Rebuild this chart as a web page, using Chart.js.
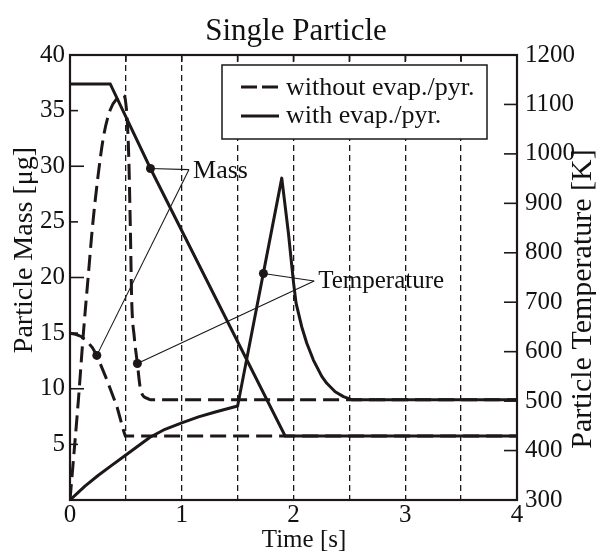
<!DOCTYPE html>
<html><head><meta charset="utf-8">
<script src="https://cdn.jsdelivr.net/npm/chart.js@4.4.1/dist/chart.umd.min.js"></script>
<style>html,body{margin:0;padding:0;background:#fff;}#wrap{width:596px;height:551px;}</style>
</head><body><div id="wrap"><canvas id="c" width="596" height="551"></canvas></div>
<script>
// ---- texts ----
const chartTitle = 'Single Particle';
const xTitle = 'Time [s]';
const yMassTitle = 'Particle Mass [\u03bcg]';
const yTempTitle = 'Particle Temperature [K]';
const legendLabels = ['without evap./pyr.', 'with evap./pyr.'];

// ---- ticks ----
const xTickValues = [0, 0.5, 1, 1.5, 2, 2.5, 3, 3.5, 4];
const xTickLabels = ['0', '', '1', '', '2', '', '3', '', '4'];
const massTickValues = [0, 5, 10, 15, 20, 25, 30, 35, 40];
const massTickLabels = ['', '5', '10', '15', '20', '25', '30', '35', '40'];
const tempTickValues = [300, 400, 500, 600, 700, 800, 900, 1000, 1100, 1200];
const tempTickLabels = ['300', '400', '500', '600', '700', '800', '900', '1000', '1100', '1200'];

// ---- series: mass with evap./pyr. (solid) ----
const massWithT = [0, 0.36, 0.72, 1.925, 4];
const massWithM = [37.4, 37.4, 29.8, 5.75, 5.75];
// ---- mass without evap./pyr. (dashed) ----
const massWithoutT = [0, 0.05, 0.1, 0.15, 0.2, 0.24, 0.33, 0.42, 0.48, 0.495, 4];
const massWithoutM = [15.0, 14.9, 14.7, 14.3, 13.7, 13.0, 10.8, 8.4, 6.2, 5.75, 5.75];
// ---- temperature without evap./pyr. (dashed) ----
const tempWithoutT = [0, 0.015, 0.075, 0.12, 0.164, 0.2, 0.254, 0.3, 0.36, 0.42, 0.477, 0.505, 0.525, 0.54, 0.552, 0.575, 0.603, 0.627, 0.65, 0.687, 0.72, 4];
const tempWithoutK = [300, 340, 502, 638, 755, 850, 961, 1035, 1089, 1112, 1119, 1090, 1000, 850, 705, 630, 576, 529, 512, 506, 503, 503];
// ---- temperature with evap./pyr. (solid) ----
const tempWithT = [0, 0.134, 0.254, 0.373, 0.5, 0.716, 0.85, 1.0, 1.15, 1.3, 1.5, 1.895, 1.955, 2.0, 2.023, 2.074, 2.119, 2.178, 2.253, 2.298, 2.373, 2.447, 2.52, 4];
const tempWithK = [300, 328, 350, 370, 391, 427, 443, 456, 468, 478, 490, 951, 839, 740, 698, 650, 617, 583, 550, 536, 519, 509, 503, 503];

// ---- marked points (callout dots) ----
const massDotT = [0.72, 0.24];
const massDotM = [29.8, 13.0];
const tempDotT = [1.731, 0.603];
const tempDotK = [758, 576];
// ---- callout labels (anchor in data units) ----
const massLabel = { text: 'Mass', t: 1.065, v: 29.7 };
const tempLabel = { text: 'Temperature', t: 2.185, v: 743 };

const ink = '#1d1717';
const serif = '"Liberation Serif", "Times New Roman", serif';
const pts = (xs, ys) => xs.map((x, i) => ({ x: x, y: ys[i] }));

const deco = {
  id: 'deco',
  afterDraw(chart) {
    const { ctx, chartArea: a, scales } = chart;
    const x = scales.x, y = scales.y, y1 = scales.y1;
    const line = (x1, yA, x2, yB) => { ctx.beginPath(); ctx.moveTo(x1, yA); ctx.lineTo(x2, yB); ctx.stroke(); };
    ctx.save();
    ctx.strokeStyle = ink; ctx.fillStyle = ink; ctx.setLineDash([]);
    // inward ticks
    ctx.lineWidth = 1.6;
    massTickValues.forEach(v => { const py = y.getPixelForValue(v); line(a.left, py, a.left + (v % 10 === 0 ? 14 : 8), py); });
    tempTickValues.forEach(v => { const py = y1.getPixelForValue(v); line(a.right - 13, py, a.right, py); });
    xTickValues.forEach(v => { const px = x.getPixelForValue(v); line(px, a.top, px, a.top + 7); });
    // frame
    ctx.lineWidth = 2.2;
    ctx.strokeRect(a.left, a.top, a.right - a.left, a.bottom - a.top);
    // legend
    ctx.fillStyle = '#fff';
    ctx.fillRect(222, 65, 265, 74);
    ctx.lineWidth = 1.5; ctx.strokeStyle = ink;
    ctx.strokeRect(222, 65, 265, 74);
    ctx.lineWidth = 3.2;
    ctx.setLineDash([16, 5]); line(241, 87, 279, 87);
    ctx.setLineDash([]); line(241, 116, 279, 116);
    ctx.fillStyle = '#111';
    ctx.font = '26px ' + serif; ctx.textAlign = 'left'; ctx.textBaseline = 'alphabetic';
    ctx.fillText(legendLabels[0], 286, 95);
    ctx.fillText(legendLabels[1], 286, 123);
    // callouts
    ctx.lineWidth = 1.1; ctx.strokeStyle = ink;
    const mx = x.getPixelForValue(massLabel.t), my = y.getPixelForValue(massLabel.v);
    massDotT.forEach((t, i) => line(mx, my, x.getPixelForValue(t), y.getPixelForValue(massDotM[i])));
    const tx = x.getPixelForValue(tempLabel.t), ty = y1.getPixelForValue(tempLabel.v);
    tempDotT.forEach((t, i) => line(tx, ty, x.getPixelForValue(t), y1.getPixelForValue(tempDotK[i])));
    ctx.font = '26px ' + serif;
    ctx.fillText(massLabel.text, mx + 4, my + 8);
    ctx.font = '25px ' + serif;
    ctx.fillText(tempLabel.text, tx + 4, ty + 7);
    // titles
    ctx.textAlign = 'center';
    ctx.font = '31px ' + serif;
    ctx.fillText(chartTitle, 296, 40);
    ctx.font = '25px ' + serif;
    ctx.fillText(xTitle, 304, 547);
    ctx.save(); ctx.translate(32, 250); ctx.rotate(-Math.PI / 2);
    ctx.font = '28px ' + serif; ctx.fillText(yMassTitle, 0, 0); ctx.restore();
    ctx.save(); ctx.translate(591, 299); ctx.rotate(-Math.PI / 2);
    ctx.font = '30px ' + serif; ctx.fillText(yTempTitle, 0, 0); ctx.restore();
    ctx.restore();
  }
};

const tickFont = { family: serif, size: 25 };
new Chart(document.getElementById('c').getContext('2d'), {
  type: 'line',
  data: {
    datasets: [
      { data: pts(massWithT, massWithM), yAxisID: 'y', borderColor: ink, borderWidth: 3, pointRadius: 0, tension: 0, fill: false },
      { data: pts(massWithoutT, massWithoutM), yAxisID: 'y', borderColor: ink, borderWidth: 3, borderDash: [16, 7], pointRadius: 0, tension: 0, fill: false },
      { data: pts(tempWithoutT, tempWithoutK), yAxisID: 'y1', borderColor: ink, borderWidth: 3, borderDash: [16, 7], pointRadius: 0, cubicInterpolationMode: 'monotone', fill: false },
      { data: pts(tempWithT, tempWithK), yAxisID: 'y1', borderColor: ink, borderWidth: 3, pointRadius: 0, tension: 0, fill: false, borderJoinStyle: 'round' },
      { data: pts(massDotT, massDotM), yAxisID: 'y', showLine: false, pointRadius: 4.5, pointBackgroundColor: ink, pointBorderColor: ink, pointBorderWidth: 0 },
      { data: pts(tempDotT, tempDotK), yAxisID: 'y1', showLine: false, pointRadius: 4.5, pointBackgroundColor: ink, pointBorderColor: ink, pointBorderWidth: 0 }
    ]
  },
  options: {
    responsive: false, animation: false,
    layout: { padding: { top: 55, left: 0, right: 0, bottom: 0 } },
    plugins: { legend: { display: false }, title: { display: false }, tooltip: { enabled: false } },
    scales: {
      x: {
        type: 'linear', min: 0, max: 4,
        afterBuildTicks: s => { s.ticks = xTickValues.map(v => ({ value: v })); },
        afterFit: s => { s.height = 51; },
        ticks: { callback: (v, i) => xTickLabels[i], font: tickFont, color: '#111', padding: 0, maxRotation: 0, autoSkip: false },
        grid: { display: true, color: ink, lineWidth: 1.3, drawTicks: false },
        border: { display: false, dash: [6, 4] }
      },
      y: {
        position: 'left', min: 0, max: 40,
        afterBuildTicks: s => { s.ticks = massTickValues.map(v => ({ value: v })); },
        afterFit: s => { s.width = 70; },
        ticks: { callback: (v, i) => massTickLabels[i], font: tickFont, color: '#111', padding: 5, autoSkip: false },
        grid: { display: false, drawTicks: false },
        border: { display: false }
      },
      y1: {
        position: 'right', min: 300, max: 1200,
        afterBuildTicks: s => { s.ticks = tempTickValues.map(v => ({ value: v })); },
        afterFit: s => { s.width = 79; },
        ticks: { callback: (v, i) => tempTickLabels[i], font: tickFont, color: '#111', padding: 8, autoSkip: false },
        grid: { display: false, drawTicks: false },
        border: { display: false }
      }
    }
  },
  plugins: [deco]
});
</script>
</body></html>
